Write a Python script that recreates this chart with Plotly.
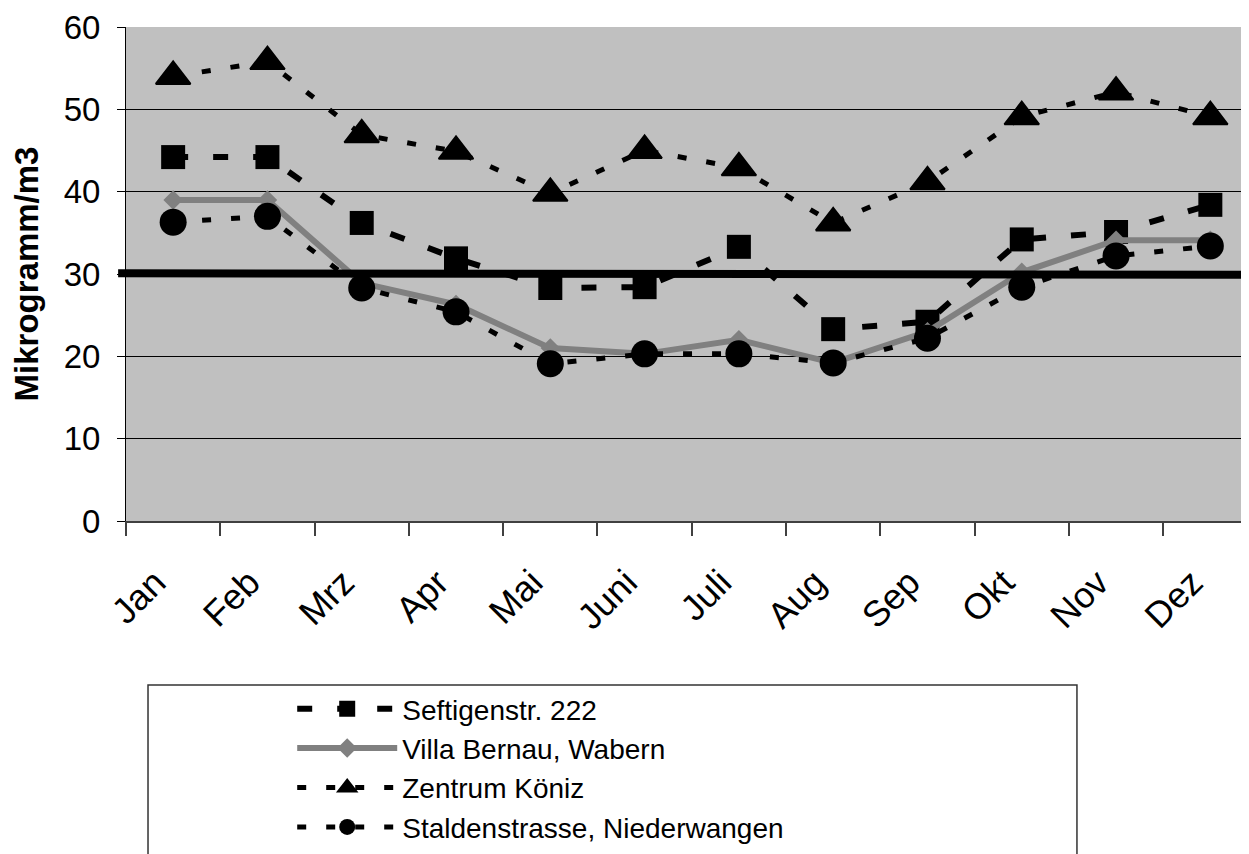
import plotly.graph_objects as go

# ---- data ----
months = ["Jan", "Feb", "Mrz", "Apr", "Mai", "Juni", "Juli", "Aug", "Sep", "Okt", "Nov", "Dez"]
seftigen = [44.2, 44.2, 36.2, 31.9, 28.3, 28.4, 33.3, 23.3, 24.2, 34.2, 35.1, 38.4]
villa = [39.0, 39.0, 28.9, 26.3, 21.0, 20.3, 22.0, 19.2, 23.0, 30.2, 34.1, 34.1]
zentrum = [54.0, 55.8, 46.9, 44.9, 39.8, 45.0, 42.9, 36.2, 41.2, 49.1, 52.1, 49.1]
stalden = [36.3, 37.0, 28.3, 25.4, 19.1, 20.3, 20.3, 19.2, 22.2, 28.4, 32.2, 33.4]
grenzwert = [30.1, 29.9]  # thick reference line, left end / right end

series_names = ["Seftigenstr. 222", "Villa Bernau, Wabern", "Zentrum Köniz",
                "Staldenstrasse, Niederwangen"]

FONT = "Liberation Sans, Arial, sans-serif"

fig = go.Figure()

fig.add_trace(go.Scatter(
    x=months, y=seftigen, name=series_names[0], mode="lines+markers",
    line=dict(color="black", width=6, dash="15px,25px"),
    marker=dict(symbol="square", size=24, color="black"),
))
fig.add_trace(go.Scatter(
    x=months, y=villa, name=series_names[1], mode="lines+markers",
    line=dict(color="#808080", width=6),
    marker=dict(symbol="diamond", size=15, color="#808080"),
))
fig.add_trace(go.Scatter(
    x=months, y=zentrum, name=series_names[2], mode="lines+markers",
    line=dict(color="black", width=5, dash="9px,20px"),
    marker=dict(symbol="triangle-up", size=30, color="black",
                line=dict(color="black", width=2)),
))
fig.add_trace(go.Scatter(
    x=months, y=stalden, name=series_names[3], mode="lines+markers",
    line=dict(color="black", width=5, dash="9px,20px"),
    marker=dict(symbol="circle", size=27, color="black"),
))

# thick reference line at ~30
fig.add_shape(type="line", xref="paper", yref="y",
              x0=-0.007, x1=1.0, y0=grenzwert[0], y1=grenzwert[1],
              line=dict(color="black", width=8), layer="above")

# legend frame
fig.add_shape(type="rect", xref="paper", yref="paper",
              x0=0.0196, x1=0.8468, y0=-0.332, y1=-0.70,
              line=dict(color="#333333", width=1.5), fillcolor="rgba(0,0,0,0)",
              layer="below")

# page has an 8px body margin; the figure is sized so the plot lands where the reference has it
fig.update_layout(
    width=1241, height=846,
    margin=dict(l=118, r=0, t=19, b=333, autoexpand=False),
    paper_bgcolor="white",
    plot_bgcolor="#C0C0C0",
    font=dict(family=FONT, color="black"),
    showlegend=True,
    legend=dict(
        x=0.148, y=-0.33, xanchor="left", yanchor="top",
        bgcolor="rgba(0,0,0,0)", borderwidth=0,
        font=dict(family=FONT, size=28, color="black"),
        itemwidth=100,
        traceorder="normal",
    ),
    xaxis=dict(
        type="category", categoryorder="array", categoryarray=months,
        range=[-0.5, 11.41], automargin=False,
        tickson="boundaries", ticks="outside", ticklen=13,
        tickcolor="#404040", tickwidth=1.5,
        showline=True, linecolor="#404040", linewidth=2,
        showgrid=False, zeroline=False,
        tickangle=-45,
        ticklabelstandoff=24, ticklabelshift=-18,
        tickfont=dict(family=FONT, size=36, color="black"),
    ),
    yaxis=dict(
        range=[0, 60], tick0=0, dtick=10, automargin=False,
        ticks="outside", ticklen=8, tickcolor="black", tickwidth=1,
        showline=True, linecolor="black", linewidth=1,
        showgrid=True, gridcolor="black", gridwidth=1,
        zeroline=False,
        tickfont=dict(family=FONT, size=33, color="black"),
        ticklabelstandoff=10,
        title=dict(text="<b>Mikrogramm/m3</b>", standoff=18,
                   font=dict(family=FONT, size=33, color="black")),
    ),
)

fig.write_html("out.html")
